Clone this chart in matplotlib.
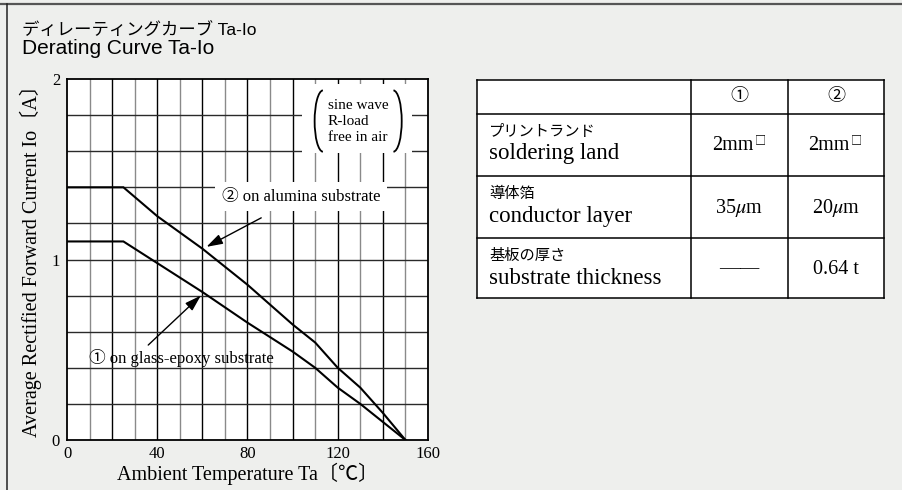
import numpy as np
import matplotlib
matplotlib.use("Agg")
import matplotlib.pyplot as plt
from matplotlib.patches import Arc, Rectangle
from matplotlib.lines import Line2D

plt.rcParams["font.family"] = ["Liberation Serif", "Noto Sans CJK JP", "DejaVu Sans"]
plt.rcParams["mathtext.fontset"] = "stix"

# derating curves
temp_1 = [0, 25, 60, 80, 100, 110, 120, 130, 140, 150]
io_1 = [1.10, 1.10, 0.82, 0.65, 0.49, 0.40, 0.29, 0.20, 0.10, 0.0]
temp_2 = [0, 25, 40, 60, 80, 100, 110, 120, 130, 140, 150]
io_2 = [1.40, 1.40, 1.24, 1.06, 0.86, 0.64, 0.54, 0.40, 0.29, 0.15, 0.0]

x_ticks = [0, 40, 80, 120, 160]
y_ticks = [0, 1, 2]

# table contents
col_heads = ["①", "②"]
row_jp = ["プリントランド", "導体箔", "基板の厚さ"]
row_en = ["soldering land", "conductor layer", "substrate thickness"]
vals_1 = ["2mm", r"35$\mu$m", "——"]
vals_2 = ["2mm", r"20$\mu$m", "0.64 t"]
sups = ["□", "", ""]

BG = "#eeefed"
W, H = 903, 490
fig = plt.figure(figsize=(W / 100, H / 100), dpi=100, facecolor=BG)

# frame lines of the panel
fig.add_artist(Line2D([0, 1], [1 - 4.5 / H, 1 - 4.5 / H], color="#555555", lw=1.6))
fig.add_artist(Line2D([7 / W, 7 / W], [0, 1 - 4.5 / H], color="#222222", lw=1.1))

# titles
fig.text(22 / W, 1 - 31 / H, "ディレーティングカーブ Ta-Io", fontsize=12.5,
         family=["Liberation Sans", "Noto Sans CJK JP"], va="center", ha="left")
fig.text(22 / W, 1 - 49 / H, "Derating Curve Ta-Io", fontsize=15,
         family=["Liberation Sans", "Noto Sans CJK JP"], va="center", ha="left")

# ---- derating chart ----
ax = fig.add_axes([67 / W, 50 / H, 361 / W, 361 / H])
ax.set_facecolor("white")
ax.set_xlim(0, 160)
ax.set_ylim(0, 2)

for x in np.arange(10, 160, 10):
    major = x % 20 == 0
    ax.axvline(x, color="black" if major else "#8a8a8a", lw=1.0, zorder=0.5)
for y in np.arange(0.2, 2.0, 0.2):
    ax.axhline(y, color="#2a2a2a", lw=1.0, zorder=0.5)

ax.plot(temp_1, io_1, color="black", lw=1.5, zorder=3, solid_joinstyle="miter")
ax.plot(temp_2, io_2, color="black", lw=1.5, zorder=3, solid_joinstyle="miter")

for s in ax.spines.values():
    s.set_linewidth(1.3)
ax.set_xticks(x_ticks)
ax.set_yticks(y_ticks)
ax.tick_params(length=0, labelsize=12)
ax.tick_params(axis="x", pad=4)
ax.tick_params(axis="y", pad=5)
ax.set_xlabel("Ambient Temperature Ta〔℃〕", fontsize=14.5, labelpad=1)
ax.set_ylabel("Average Rectified Forward Current Io〔A〕", fontsize=14.5)
ax.yaxis.set_label_coords(-0.068, 0.51)

# condition box
ax.add_patch(Rectangle((104, 1.59), 49, 0.38, facecolor="white", edgecolor="none", zorder=1))
ax.text(115.5, 1.765, "sine wave\nR-load\nfree in air", fontsize=11, ha="left",
        va="center", linespacing=1.3, zorder=4)
ax.add_patch(Arc((113.5, 1.767), 7.5, 0.34, theta1=115, theta2=245, lw=1.3,
                 color="black", zorder=4))
ax.add_patch(Arc((144.6, 1.767), 7.5, 0.34, theta1=-65, theta2=65, lw=1.3,
                 color="black", zorder=4))

# curve labels
arrow = dict(arrowstyle="-|>,head_length=0.7,head_width=0.22", color="black",
             lw=1.0, mutation_scale=14, shrinkB=0)
ax.annotate("② on alumina substrate", xy=(61.8, 1.07), xytext=(103.8, 1.348),
            fontsize=12, ha="center", va="center", zorder=4,
            bbox=dict(boxstyle="square,pad=0.4", facecolor="white", edgecolor="none"),
            arrowprops=dict(arrow, shrinkA=10))
ax.annotate("", xy=(59.3, 0.80), xytext=(36, 0.526), zorder=4,
            arrowprops=dict(arrow, shrinkA=0))
ax.text(50.5, 0.454, "① on glass-epoxy substrate", fontsize=12, ha="center",
        va="center", zorder=4)

# ---- condition table ----
tx = fig.add_axes([477 / W, 1 - 298 / H, 407 / W, 218 / H])
tx.set_xlim(0, 407)
tx.set_ylim(218, 0)
tx.axis("off")
col_x = [0, 214, 311, 407]
row_y = [0, 34, 96, 158, 218]
tx.add_patch(Rectangle((0, 0), 407, 218, facecolor="white", edgecolor="none", zorder=0))
for cx in col_x:
    tx.plot([cx, cx], [0, 218], color="black", lw=1.1, clip_on=False)
for ry in row_y:
    tx.plot([0, 407], [ry, ry], color="black", lw=1.1, clip_on=False)

for j, head in enumerate(col_heads):
    tx.text((col_x[j + 1] + col_x[j + 2]) / 2, 17, head, fontsize=13,
            ha="center", va="center")
for i in range(len(row_jp)):
    top = row_y[i + 1]
    tx.text(12, top + 18, row_jp[i], fontsize=11, ha="left", va="center")
    tx.text(12, top + 40, row_en[i], fontsize=16.5, ha="left", va="center")
    mid = (row_y[i + 1] + row_y[i + 2]) / 2
    for k, vals in enumerate([vals_1, vals_2]):
        cx = (col_x[k + 1] + col_x[k + 2]) / 2
        if sups[i]:
            tx.text(cx + 14, mid + 1, vals[i], fontsize=14.5, ha="right", va="center")
            tx.text(cx + 15, mid - 5, sups[i], fontsize=8, ha="left", va="center",
                    family=["Noto Sans CJK JP"])
        else:
            tx.text(cx, mid + 1, vals[i], fontsize=14.5, ha="center", va="center")

fig.savefig("out.png", dpi=100, facecolor=BG)
